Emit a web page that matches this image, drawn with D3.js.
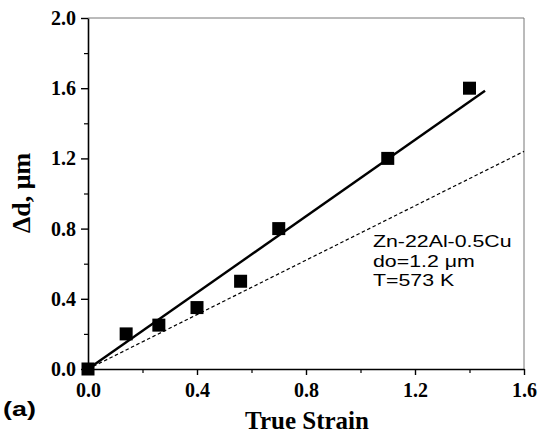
<!DOCTYPE html>
<html>
<head>
<meta charset="utf-8">
<script src="https://cdn.jsdelivr.net/npm/d3@7"></script>
<style>
  html, body { margin: 0; padding: 0; background: #fff; }
  svg { display: block; }
</style>
</head>
<body>
<svg id="chart" width="538" height="438"></svg>
<script>
// Measured grain-size change versus true strain
const strain = [0.0, 0.14, 0.26, 0.40, 0.56, 0.70, 1.10, 1.40];
const deltaD = [0.0, 0.20, 0.25, 0.35, 0.50, 0.80, 1.20, 1.60];

// Linear fit through the data (solid) and reference trend (dashed)
const fitX = [0.0, 1.457];
const fitY = [0.0, 1.585];
const refX = [0.0, 1.6];
const refY = [0.0, 1.24];

const xTicks = [0.0, 0.4, 0.8, 1.2, 1.6];
const yTicks = [0.0, 0.4, 0.8, 1.2, 1.6, 2.0];
const xMinor = [0.2, 0.6, 1.0, 1.4];
const yMinor = [0.2, 0.6, 1.0, 1.4, 1.8];

const noteLines = ["Zn-22Al-0.5Cu", "do=1.2 \u03BCm", "T=573 K"];

const svg = d3.select("#chart");
const plotL = 88, plotR = 524, plotT = 18, plotB = 369;

const x = d3.scaleLinear().domain([0, 1.6]).range([plotL, plotR]);
const y = d3.scaleLinear().domain([0, 2.0]).range([plotB, plotT]);

const serif = "'Liberation Serif', 'Times New Roman', serif";
const sans = "'Liberation Sans', Arial, sans-serif";

// Top and right frame
svg.append("line").attr("x1", plotL).attr("x2", plotR).attr("y1", plotT).attr("y2", plotT)
  .attr("stroke", "#777").attr("stroke-width", 1);
svg.append("line").attr("x1", plotR).attr("x2", plotR).attr("y1", plotT).attr("y2", plotB)
  .attr("stroke", "#777").attr("stroke-width", 1);

// Axes
const fmt = d3.format(".1f");
const xAxis = svg.append("g").attr("transform", `translate(0,${plotB})`)
  .call(d3.axisBottom(x).tickValues(xTicks).tickFormat(fmt).tickSize(6).tickSizeOuter(0).tickPadding(8));
const yAxis = svg.append("g").attr("transform", `translate(${plotL},0)`)
  .call(d3.axisLeft(y).tickValues(yTicks).tickFormat(fmt).tickSize(7).tickSizeOuter(0).tickPadding(5));

[xAxis, yAxis].forEach(g => {
  g.select(".domain").attr("stroke", "#000").attr("stroke-width", 1.6);
  g.selectAll(".tick line").attr("stroke", "#000").attr("stroke-width", 1.4);
  g.selectAll(".tick text").attr("fill", "#000")
    .style("font-family", serif).style("font-weight", "bold").style("font-size", "20px");
});

// Minor ticks
svg.append("g").attr("transform", `translate(0,${plotB})`)
  .call(d3.axisBottom(x).tickValues(xMinor).tickFormat("").tickSize(4).tickSizeOuter(0))
  .call(g => g.select(".domain").remove())
  .selectAll(".tick line").attr("stroke", "#000").attr("stroke-width", 1.2);
svg.append("g").attr("transform", `translate(${plotL},0)`)
  .call(d3.axisLeft(y).tickValues(yMinor).tickFormat("").tickSize(4).tickSizeOuter(0))
  .call(g => g.select(".domain").remove())
  .selectAll(".tick line").attr("stroke", "#000").attr("stroke-width", 1.2);

// Lines
const line = d3.line().x(d => x(d[0])).y(d => y(d[1]));
svg.append("path").datum(d3.zip(refX, refY)).attr("d", line)
  .attr("fill", "none").attr("stroke", "#000").attr("stroke-width", 1.2)
  .attr("stroke-dasharray", "3.5,2.5");
svg.append("path").datum(d3.zip(fitX, fitY)).attr("d", line)
  .attr("fill", "none").attr("stroke", "#000").attr("stroke-width", 2.4);

// Data markers
const size = 13;
svg.append("g").selectAll("rect").data(d3.zip(strain, deltaD)).join("rect")
  .attr("x", d => x(d[0]) - size / 2).attr("y", d => y(d[1]) - size / 2)
  .attr("width", size).attr("height", size).attr("fill", "#000");

// Axis titles
svg.append("text").attr("x", 307).attr("y", 429).attr("text-anchor", "middle")
  .style("font-family", serif).style("font-weight", "bold").style("font-size", "25px")
  .text("True Strain");
svg.append("text").attr("transform", "translate(30,193) rotate(-90)").attr("text-anchor", "middle")
  .style("font-family", serif).style("font-weight", "bold").style("font-size", "26px")
  .text("\u0394d, \u03BCm");

// Annotation (sans text set slightly wide)
const noteY = [247, 266.7, 286.4];
svg.append("g").selectAll("text").data(noteLines).join("text")
  .attr("transform", (d, i) => `translate(373,${noteY[i]}) scale(1.24,1)`)
  .style("font-family", sans).style("font-size", "17.2px").attr("fill", "#000")
  .text(d => d);

// Panel label
svg.append("text").attr("transform", "translate(3,416) scale(1.28,1)")
  .style("font-family", sans).style("font-weight", "bold").style("font-size", "21px")
  .text("(a)");
</script>
</body>
</html>
